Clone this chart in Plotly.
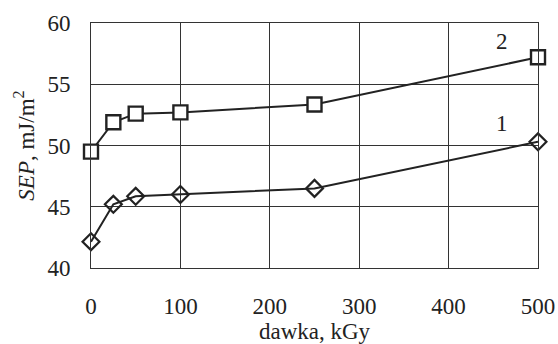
import plotly.graph_objects as go

dose = [0, 25, 50, 100, 250, 500]
sep_1 = [42.15, 45.2, 45.85, 46.0, 46.5, 50.3]
sep_2 = [49.5, 51.9, 52.6, 52.7, 53.35, 57.2]
x_ticks = [0, 100, 200, 300, 400, 500]
y_ticks = [40, 45, 50, 55, 60]
series_labels = ["1", "2"]
label_pos = [(460, 51.8), (460, 58.45)]

FONT = "Liberation Serif"
INK = "#222222"
FS = 23

fig = go.Figure()
fig.add_trace(go.Scatter(
    x=dose, y=sep_1, mode="lines+markers",
    line=dict(color=INK, width=2),
    marker=dict(symbol="diamond-open", size=13, color=INK, line=dict(width=2.2, color=INK)),
    showlegend=False, cliponaxis=False))
fig.add_trace(go.Scatter(
    x=dose, y=sep_2, mode="lines+markers",
    line=dict(color=INK, width=2),
    marker=dict(symbol="square", size=14, color="white", line=dict(width=2.4, color=INK)),
    showlegend=False, cliponaxis=False))

for lab, (lx, ly) in zip(series_labels, label_pos):
    fig.add_annotation(x=lx, y=ly, text=lab, showarrow=False,
                       font=dict(family=FONT, size=FS, color=INK))

fig.update_layout(
    width=558, height=344,
    margin=dict(l=91, r=20, t=23, b=76),
    paper_bgcolor="white", plot_bgcolor="white",
    font=dict(family=FONT, size=FS, color=INK),
)
fig.update_xaxes(
    range=[0, 500], tickvals=x_ticks, ticks="", showgrid=True, automargin=False,
    gridcolor="#333333", gridwidth=1, showline=True, linecolor="#333333",
    linewidth=1, mirror=True, zeroline=False, ticklabelstandoff=17,
    tickfont=dict(family=FONT, size=FS, color=INK),
    title=dict(text="dawka, kGy", font=dict(family=FONT, size=FS, color=INK), standoff=6),
)
fig.update_yaxes(
    range=[40, 60], tickvals=y_ticks, ticks="", showgrid=True, automargin=False,
    gridcolor="#333333", gridwidth=1, showline=True, linecolor="#333333",
    linewidth=1, mirror=True, zeroline=False, ticklabelstandoff=15,
    tickfont=dict(family=FONT, size=FS, color=INK),
    title=dict(text="<i>SEP</i>, mJ/m<sup>2</sup>", font=dict(family=FONT, size=FS, color=INK), standoff=6),
)
fig.write_html("out.html")
